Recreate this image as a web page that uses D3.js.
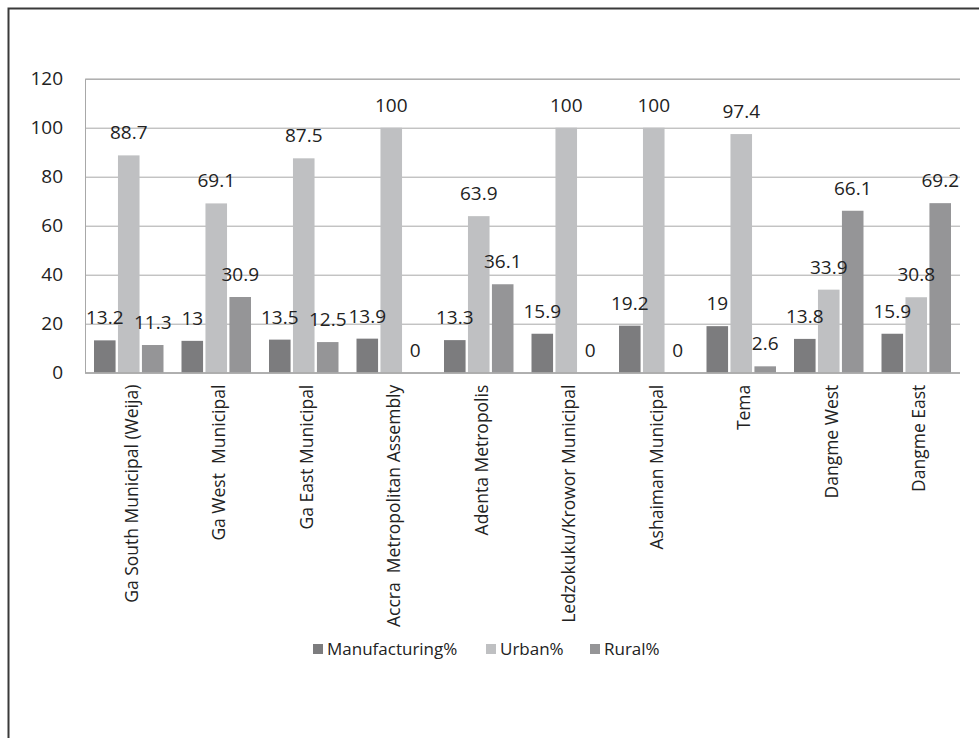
<!DOCTYPE html>
<html>
<head>
<meta charset="utf-8">
<script src="https://cdn.jsdelivr.net/npm/d3@7"></script>
<style>
  body { margin: 0; background: #fff; }
  svg { display: block; }
</style>
</head>
<body>
<div id="chart"></div>
<script>
var categories = [
  'Ga South Municipal (Weija)',
  'Ga West  Municipal',
  'Ga East Municipal',
  'Accra  Metropolitan Assembly',
  'Adenta Metropolis',
  'Ledzokuku/Krowor Municipal',
  'Ashaiman Municipal',
  'Tema',
  'Dangme West',
  'Dangme East'
];
var seriesNames = ['Manufacturing%', 'Urban%', 'Rural%'];
var manufacturing = [13.2, 13, 13.5, 13.9, 13.3, 15.9, 19.2, 19, 13.8, 15.9];
var urban = [88.7, 69.1, 87.5, 100, 63.9, 100, 100, 97.4, 33.9, 30.8];
var rural = [11.3, 30.9, 12.5, 0, 36.1, 0, 0, 2.6, 66.1, 69.2];
var yTicks = [0, 20, 40, 60, 80, 100, 120];
var colors = ['#7c7c7e', '#bfc0c2', '#959597'];

var width = 979,
  height = 738,
  plotLeft = 85,
  plotRight = 960,
  plotTop = 78.7,
  plotBottom = 372.7,
  groupPad = 9;

var svg = d3.select('#chart').append('svg')
  .attr('width', width)
  .attr('height', height)
  .style('font-family', '"Open Sans", sans-serif');

// outer frame (cut off at right and bottom)
svg.append('rect')
  .attr('x', 8.5).attr('y', 8.5)
  .attr('width', 1100).attr('height', 1100)
  .attr('fill', 'none')
  .attr('stroke', '#3a3a3a')
  .attr('stroke-width', 2);

var y = d3.scaleLinear().domain([0, 120]).range([plotBottom, plotTop]);
var x0 = d3.scaleBand().domain(categories).range([plotLeft, plotRight]);
var x1 = d3.scaleBand().domain(seriesNames)
  .range([groupPad, x0.bandwidth() - groupPad])
  .paddingInner(0.1);

var table = categories.map(function (c, i) {
  return { cat: c, values: [manufacturing[i], urban[i], rural[i]] };
});

// gridlines
var yAxis = d3.axisLeft(y).tickValues(yTicks)
  .tickSize(-(plotRight - plotLeft)).tickPadding(22);
var gy = svg.append('g')
  .attr('transform', 'translate(' + plotLeft + ',0)')
  .call(yAxis);
gy.select('.domain').attr('stroke', '#a8a8a8');
gy.selectAll('.tick line').attr('stroke', '#a8a8a8');
gy.selectAll('.tick text')
  .attr('fill', '#222')
  .attr('font-size', 19)
  .attr('font-family', '"Open Sans", sans-serif');

// bars
var groups = svg.selectAll('.group')
  .data(table)
  .enter().append('g')
  .attr('class', 'group')
  .attr('transform', function (d) { return 'translate(' + x0(d.cat) + ',0)'; });

groups.selectAll('rect')
  .data(function (d) { return d.values; })
  .enter().append('rect')
  .attr('x', function (d, i) { return x1(seriesNames[i]); })
  .attr('y', function (d) { return y(d); })
  .attr('width', x1.bandwidth())
  .attr('height', function (d) { return plotBottom - y(d); })
  .attr('fill', function (d, i) { return colors[i]; });

groups.selectAll('text.val')
  .data(function (d) { return d.values; })
  .enter().append('text')
  .attr('class', 'val')
  .attr('x', function (d, i) { return x1(seriesNames[i]) + x1.bandwidth() / 2; })
  .attr('y', function (d) { return y(d) - 16; })
  .attr('text-anchor', 'middle')
  .attr('font-size', 19)
  .attr('fill', '#222')
  .text(function (d) { return d; });

// x axis line
svg.append('line')
  .attr('x1', plotLeft).attr('x2', plotRight)
  .attr('y1', plotBottom).attr('y2', plotBottom)
  .attr('stroke', '#a8a8a8');

// category labels
svg.selectAll('.cat')
  .data(categories)
  .enter().append('text')
  .attr('class', 'cat')
  .attr('transform', function (d) {
    var cx = x0(d) + x0.bandwidth() / 2 + 9;
    return 'translate(' + cx + ',' + (plotBottom + 12) + ') rotate(-90)';
  })
  .attr('text-anchor', 'end')
  .attr('font-size', 17.5)
  .attr('fill', '#222')
  .style('white-space', 'pre')
  .text(function (d) { return d; });

// legend
var legendX = [313, 486, 590];
var legend = svg.selectAll('.legend')
  .data(seriesNames)
  .enter().append('g')
  .attr('class', 'legend')
  .attr('transform', function (d, i) { return 'translate(' + legendX[i] + ',655)'; });
legend.append('rect')
  .attr('x', 0).attr('y', -11)
  .attr('width', 10).attr('height', 10)
  .attr('fill', function (d, i) { return colors[i]; });
legend.append('text')
  .attr('x', 14).attr('y', 0)
  .attr('font-size', 17)
  .attr('fill', '#222')
  .text(function (d) { return d; });
</script>
</body>
</html>
